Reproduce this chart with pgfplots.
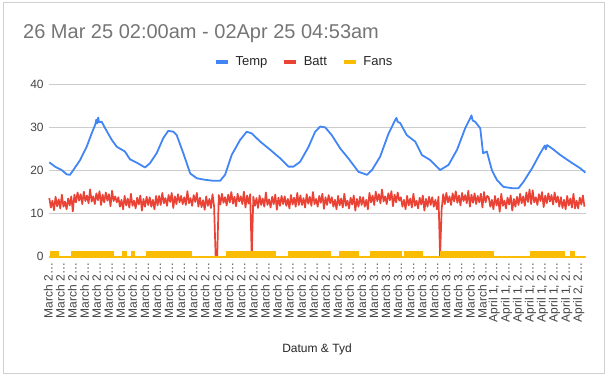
\documentclass[border=0pt]{standalone}
\usepackage{fontspec}
\setmainfont{Liberation Sans}
\usepackage{pgfplots}
\pgfplotsset{compat=1.18}
\definecolor{tempblue}{HTML}{4285F4}
\definecolor{battred}{HTML}{EA4335}
\definecolor{fansyellow}{HTML}{FBBC04}
\definecolor{gridgray}{HTML}{CCCCCC}
\definecolor{titlegray}{HTML}{757575}
\definecolor{labelgray}{HTML}{444444}
\definecolor{framegray}{HTML}{D0D0D0}
\begin{document}
\begin{tikzpicture}
\path[use as bounding box] (0pt,0pt) rectangle (608pt,377pt);
\draw[color=framegray, line width=0.8pt] (3.5pt,3.5pt) rectangle (604.5pt,374.5pt);
\node[anchor=base west, font=\fontsize{20}{24}\selectfont, text=titlegray, inner sep=0pt] at (23pt,338pt) {26 Mar 25 02:00am - 02Apr 25 04:53am};
\node[anchor=base, font=\fontsize{12}{14}\selectfont, text=black!85, inner sep=0pt] at (317pt,24.3pt) {Datum \& Tyd};
\begin{axis}[
  at={(49.3pt,120.3pt)}, anchor=south west,
  scale only axis, width=536.4pt, height=172.4pt,
  xmin=0, xmax=170.9, ymin=0, ymax=40,
  clip=false,
  axis line style={draw=none},
  major tick length=0pt,
  ymajorgrids, grid style={color=gridgray, line width=0.8pt},
  ytick={0,10,20,30,40},
  xtick={0,3.841,...,169.1},
  xticklabels={March 2…,March 2…,March 2…,March 2…,March 2…,March 2…,March 2…,March 2…,March 2…,March 2…,March 2…,March 2…,March 2…,March 2…,March 2…,March 2…,March 2…,March 2…,March 2…,March 2…,March 2…,March 2…,March 2…,March 2…,March 2…,
    March 3…,March 3…,March 3…,March 3…,March 3…,March 3…,March 3…,March 3…,March 3…,March 3…,March 3…,March 3…,
    {April 1, 2…},{April 1, 2…},{April 1, 2…},{April 1, 2…},{April 1, 2…},{April 1, 2…},{April 1, 2…},{April 2, 2…}},
  /pgf/number format/assume math mode=true,
  tick label style={font=\fontsize{12}{14}\selectfont, text=labelgray},
  xticklabel style={xshift=-1pt, rotate=90, anchor=east, inner sep=0pt},
  xticklabel shift=6pt,
  yticklabel style={anchor=east, inner sep=0pt, xshift=-5.5pt},
  legend columns=3,
  legend style={at={(0.475,1.128)}, anchor=center, draw=none, fill=none,
    font=\fontsize{13}{15}\selectfont, text=black!85,
    /tikz/every odd column/.append style={column sep=3.7pt},
    /tikz/every even column/.append style={column sep=12.7pt}},
  legend image code/.code={\draw[solid, line width=4pt, line cap=butt, fill=none] (0pt,0pt) -- (12pt,0pt);},
]
\addplot[color=tempblue, line width=1.8pt, line join=round] coordinates {
(0,21.9)(1.8,20.9)(3.95,20.1)(5.55,19.1)(6.6,19.0)(7.65,20.1)(9.8,22.4)(11.9,25.5)(13.5,28.6)(14.6,30.6)(15.0,31.8)(15.2,30.9)(15.6,32.3)(15.8,31.2)(16.7,31.3)(17.8,29.8)(19.9,27.1)(21.5,25.5)(24.1,24.4)(25.7,22.6)(27.9,21.8)(30.5,20.7)(32.1,21.7)(34.2,24.0)(36.3,27.5)(37.9,29.2)(39.5,29.0)(40.6,28.2)(42.7,24.0)(44.9,19.3)(47.0,18.2)(49.1,17.9)(52.3,17.6)(54.4,17.6)(56.0,19.0)(58.1,23.6)(60.8,27.1)(62.9,29.0)(64.5,28.6)(67.2,26.7)(70.4,24.8)(73.6,22.8)(76.2,20.9)(77.8,20.9)(79.9,22.0)(82.6,25.5)(84.7,29.0)(86.3,30.2)(87.9,30.0)(90.0,28.2)(92.7,25.1)(95.3,22.8)(98.5,19.7)(101.2,19.0)(102.8,20.1)(105.4,23.2)(108.1,28.6)(110.2,31.7)(110.6,32.2)(111.0,31.3)(111.8,31.0)(113.9,28.2)(116.6,26.7)(118.7,23.6)(121.4,22.4)(124.5,20.1)(127.2,21.3)(129.9,24.8)(132.5,29.8)(134.1,32.1)(134.5,32.8)(134.9,31.6)(135.7,31.3)(137.3,29.8)(138.2,24.0)(139.4,24.4)(141.0,20.1)(142.6,17.8)(144.7,16.2)(147.4,15.9)(149.5,15.9)(151.1,17.4)(153.8,20.5)(156.4,24.0)(157.9,25.8)(158.2,24.9)(158.6,25.9)(160.2,25.1)(162.8,23.6)(166.0,22.0)(169.2,20.5)(170.8,19.5)
};
\addlegendentry{Temp}
\addplot[color=battred, line width=1.7pt, line join=round] table[x expr=\coordindex*0.5, y index=0, header=false, row sep=\\] {
13.6\\ 11.4\\ 13.0\\ 10.8\\ 13.9\\ 11.7\\ 13.3\\ 11.2\\ 14.4\\ 11.6\\ 12.8\\ 11.0\\ 13.5\\ 11.9\\ 14.0\\ 10.5\\
14.4\\ 12.6\\ 14.9\\ 13.0\\ 14.5\\ 12.2\\ 15.1\\ 12.9\\ 14.2\\ 12.4\\ 15.6\\ 12.8\\ 14.0\\ 12.2\\ 14.7\\ 13.1\\ 15.2\\ 12.0\\ 14.4\\ 12.6\\ 14.9\\ 13.0\\ 14.5\\ 11.7\\ 15.3\\ 12.9\\ 14.0\\ 12.6\\
13.8\\ 11.6\\ 13.2\\ 11.0\\ 14.1\\ 11.9\\ 13.5\\ 11.4\\ 14.6\\ 11.8\\ 13.0\\ 11.2\\ 13.7\\ 12.1\\ 14.2\\ 10.7\\ 13.4\\ 11.6\\ 13.9\\ 12.0\\ 13.8\\ 11.6\\ 13.2\\ 11.0\\ 14.1\\ 11.9\\
14.1\\ 12.0\\ 14.8\\ 12.4\\ 13.6\\ 11.8\\ 14.3\\ 12.7\\ 14.8\\ 11.3\\ 14.0\\ 12.2\\ 14.5\\ 12.6\\ 14.1\\ 12.2\\ 13.8\\ 12.0\\ 15.2\\ 12.4\\ 13.6\\ 11.8\\ 14.3\\ 12.7\\ 14.8\\ 11.6\\
13.7\\ 11.5\\ 13.1\\ 10.9\\ 14.0\\ 11.8\\ 13.4\\ 11.3\\ 14.5\\ 11.7\\
0\\ 0\\
14.3\\ 12.1\\ 14.6\\ 12.5\\ 13.8\\ 11.9\\ 14.4\\ 12.6\\ 15.0\\ 12.3\\ 13.9\\ 11.7\\ 14.6\\ 12.8\\ 14.0\\ 12.2\\ 15.1\\ 11.4\\ 14.2\\ 12.3\\ 14.5\\
0\\
13.9\\ 11.8\\ 13.6\\ 11.3\\ 14.2\\ 12.0\\ 13.5\\ 11.6\\ 14.9\\ 12.0\\ 13.3\\ 11.4\\ 13.9\\ 12.2\\ 14.4\\ 10.9\\ 13.7\\ 11.8\\ 14.1\\ 12.2\\ 14.0\\ 11.8\\ 13.4\\ 11.2\\ 14.3\\ 12.1\\ 13.7\\ 11.6\\ 14.8\\ 12.0\\
14.2\\ 12.0\\ 13.6\\ 11.4\\ 14.5\\ 12.3\\ 13.9\\ 11.8\\ 15.0\\ 12.2\\ 13.4\\ 11.6\\ 14.1\\ 12.5\\ 14.6\\ 11.1\\ 13.8\\ 12.0\\ 14.3\\ 12.4\\
13.8\\ 11.6\\ 13.2\\ 11.0\\ 14.1\\ 11.9\\ 13.5\\ 11.4\\ 14.6\\ 11.8\\ 13.0\\ 11.2\\ 13.7\\ 12.1\\ 14.2\\ 10.7\\ 13.4\\ 11.6\\ 13.9\\ 12.0\\ 13.8\\ 11.6\\ 13.2\\ 11.0\\
14.8\\ 12.6\\ 14.2\\ 12.0\\ 15.1\\ 12.9\\ 14.5\\ 12.4\\ 15.6\\ 12.8\\ 14.0\\ 12.2\\ 14.7\\ 13.1\\ 15.2\\ 11.7\\ 14.4\\ 12.6\\ 14.9\\ 13.0\\
13.8\\ 11.6\\ 13.2\\ 11.0\\ 14.1\\ 11.9\\ 13.5\\ 11.4\\ 14.6\\ 11.8\\ 13.0\\ 11.2\\ 13.7\\ 12.1\\ 14.2\\ 10.7\\ 13.4\\ 11.6\\ 13.9\\ 12.0\\ 13.8\\ 11.6\\ 13.2\\ 11.0\\ 13.9\\
0\\
11.0\\ 14.5\\ 12.2\\ 14.8\\ 12.6\\ 14.0\\ 12.0\\ 14.7\\ 12.8\\ 15.2\\ 12.5\\ 14.2\\ 11.9\\ 14.8\\ 12.9\\ 14.3\\ 12.4\\ 15.3\\ 11.6\\ 14.4\\ 12.5\\ 14.7\\ 12.2\\ 14.1\\ 12.6\\ 14.6\\ 11.4\\ 15.0\\ 12.6\\ 14.1\\
13.8\\ 11.6\\ 13.2\\ 11.0\\ 14.1\\ 11.9\\ 13.5\\ 10.4\\ 14.6\\ 11.8\\ 13.0\\ 11.2\\ 13.7\\ 12.1\\ 14.2\\ 10.7\\ 13.4\\ 11.6\\ 13.9\\ 12.0\\
14.6\\ 12.4\\ 14.0\\ 11.8\\ 14.9\\ 12.7\\ 15.6\\ 12.2\\ 15.4\\ 12.6\\ 13.8\\ 12.0\\ 14.5\\ 12.9\\ 15.0\\ 11.5\\ 14.2\\ 12.4\\ 14.7\\ 12.8\\ 14.3\\ 12.1\\ 14.9\\ 12.6\\ 14.0\\ 11.6\\
13.8\\ 11.3\\ 13.2\\ 11.0\\ 14.1\\ 11.9\\ 13.5\\ 11.4\\ 14.6\\ 11.2\\ 13.0\\ 11.2\\ 13.7\\ 12.1\\ 14.2\\ 11.6\\
};
\addlegendentry{Batt}
\addplot[color=fansyellow, fill=fansyellow, line width=2pt, const plot, line join=miter] coordinates {
(0,0)(0.4,1)(2.85,0)(7.1,1)(17.8,0)(18.3,1)(20.4,0)(23.4,1)(24.4,0)(26.3,1)(27.1,0)(31.0,1)(40.6,0)(40.9,1)(42.9,0)(43.6,1)(45.2,0)(56.6,1)(68.8,0)(69.3,1)(70.0,0)(70.4,1)(72.0,0)(76.5,1)(89.3,0)(92.7,1)(93.7,0)(94.3,1)(96.9,0)(97.5,1)(98.3,0)(102.6,1)(111.9,0)(113.4,1)(116.9,0)(117.4,1)(118.8,0)(124.9,1)(141.5,0)(153.4,1)(163.9,0)(166.3,1)(167.3,0)(170.9,0)
} \closedcycle;
\addlegendentry{Fans}
\end{axis}
\end{tikzpicture}
\end{document}
